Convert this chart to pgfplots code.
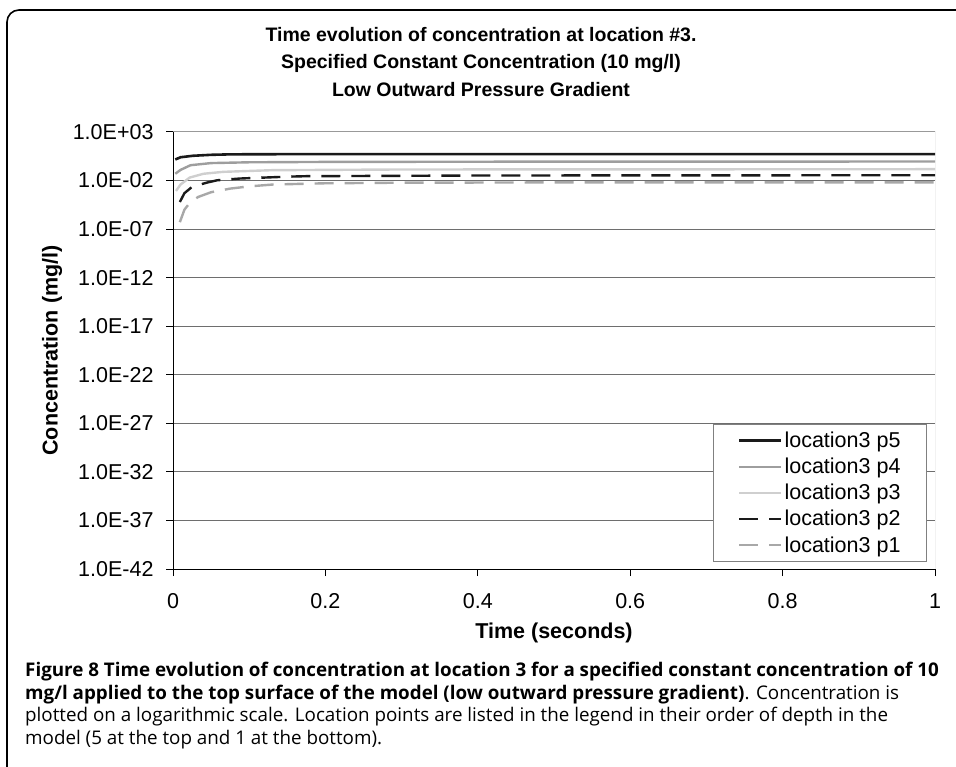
\documentclass[border=0pt]{standalone}
\usepackage{fontspec}
\setmainfont{Liberation Sans}
\newfontfamily\capfont{Open Sans}
\usepackage{pgfplots}
\pgfplotsset{compat=1.18}
\definecolor{cfive}{HTML}{1A1A1A}
\definecolor{cfour}{HTML}{9E9E9E}
\definecolor{cthree}{HTML}{CFCFCF}
\definecolor{ctwo}{HTML}{1A1A1A}
\definecolor{cone}{HTML}{A8A8A8}
\definecolor{gridc}{HTML}{6E6E6E}

\begin{document}
\begin{tikzpicture}
\useasboundingbox (0,0) rectangle (956bp,767bp);
% outer frame, cut at right and bottom
\draw[line width=1.6bp, rounded corners=12bp] (7bp,-10bp) |- (980bp,757bp);
\node[font=\bfseries\fontsize{19.5bp}{27.5bp}\selectfont, align=center] at (481bp,705bp)
  {Time evolution of concentration at location \#3.\\
   Specified Constant Concentration (10 mg/l)\\
   Low Outward Pressure Gradient};

\begin{axis}[
    at={(173bp,198bp)}, anchor=south west,
    scale only axis, width=762bp, height=437bp,
    xmin=0, xmax=1,
    ymode=log, ymin=1e-42, ymax=1e3,
    xtick={0,0.2,0.4,0.6,0.8,1}, xticklabels={0,0.2,0.4,0.6,0.8,1},
    ytick={1e-42,1e-37,1e-32,1e-27,1e-22,1e-17,1e-12,1e-7,1e-2,1e3},
    yticklabels={1.0E-42,1.0E-37,1.0E-32,1.0E-27,1.0E-22,1.0E-17,1.0E-12,1.0E-07,1.0E-02,1.0E+03},
    yminorticks=false,
    axis x line*=bottom, axis y line*=left,
    axis line style={black, line width=1bp, -},
    tick align=outside, major tick length=7bp,
    tick style={black, line width=1bp},
    tick label style={font=\fontsize{21.5bp}{24bp}\selectfont},
    xticklabel style={yshift=-14bp},
    yticklabel style={xshift=-9bp},
    ymajorgrids, grid style={gridc, line width=1bp},
    every axis y label/.style={at={(rel axis cs:0,0.5)}, xshift=-121bp, rotate=90, anchor=center},
    every axis x label/.style={at={(rel axis cs:0.5,0)}, yshift=-64bp, anchor=center},
    label style={font=\bfseries\fontsize{21.5bp}{24bp}\selectfont},
    xlabel={Time (seconds)}, ylabel={Concentration (mg/l)},
    legend style={at={(0.9895,0.016)}, anchor=south east, draw=gray, line width=1bp,
        font=\fontsize{21.5bp}{24bp}\selectfont, inner xsep=24bp, inner ysep=6bp, row sep=5bp,
        nodes={inner sep=2bp}},
    legend cell align=left,
    legend image code/.code={\draw[#1] (0bp,0bp) -- (42bp,0bp);},
]
\addplot[cfive, line width=2.6bp] coordinates {
  (0.003,1.48)(0.01,2.51)(0.026,3.55)(0.05,4.47)(0.071,4.9)(0.1,5.13)(0.2,5.25)(1,5.25)};
\addlegendentry{location3 p5}
\addplot[cfour, line width=2.4bp] coordinates {
  (0.003,0.050)(0.01,0.126)(0.023,0.38)(0.05,0.63)(0.1,0.76)(0.2,0.83)(0.5,0.89)(1,0.91)};
\addlegendentry{location3 p4}
\addplot[cthree, line width=2.4bp] coordinates {
  (0.004,8.5e-4)(0.01,4.0e-3)(0.022,0.0204)(0.04,0.050)(0.066,0.079)(0.13,0.117)(0.3,0.138)(1,0.148)};
\addlegendentry{location3 p3}
\addplot[ctwo, line width=2.4bp, dash pattern=on 19bp off 11bp] coordinates {
  (0.009,6.2e-5)(0.015,5.0e-4)(0.025,2.24e-3)(0.045,6.3e-3)(0.058,0.0107)(0.088,0.0162)(0.15,0.0251)(0.175,0.0282)(0.4,0.0331)(1,0.0355)};
\addlegendentry{location3 p2}
\addplot[cone, line width=2.4bp, dash pattern=on 19bp off 11bp] coordinates {
  (0.009,5.2e-7)(0.015,1.0e-5)(0.022,5.0e-5)(0.033,2.04e-4)(0.05,6.3e-4)(0.075,1.48e-3)(0.1,2.51e-3)(0.131,3.89e-3)(0.2,5.25e-3)(0.3,6.03e-3)(0.5,6.46e-3)(1,6.61e-3)};
\addlegendentry{location3 p1}
\draw[gray!80, line width=1bp] (rel axis cs:0,1) -- (rel axis cs:1,1) -- (rel axis cs:1,0);
\end{axis}

\begin{scope}[every node/.style={anchor=base west, inner sep=0pt, font=\capfont\fontsize{18.8bp}{22bp}\selectfont}]
\node at (25bp,90bp) {\textbf{Figure 8 Time evolution of concentration at location 3 for a specified constant concentration of 10}};
\node at (25bp,67bp) {\textbf{mg/l applied to the top surface of the model (low outward pressure gradient)}. Concentration is};
\node at (25bp,45bp) {plotted on a logarithmic scale. Location points are listed in the legend in their order of depth in the};
\node at (25bp,23bp) {model (5 at the top and 1 at the bottom).};
\end{scope}
\end{tikzpicture}
\end{document}
